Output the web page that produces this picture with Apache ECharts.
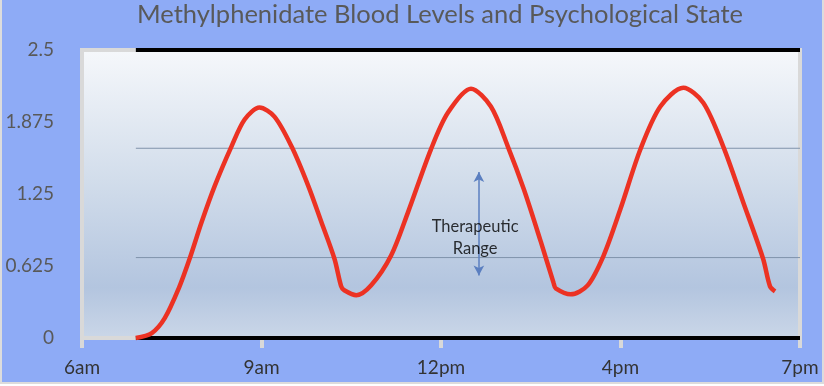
<!DOCTYPE html>
<html>
<head>
<meta charset="utf-8">
<script src="https://cdn.jsdelivr.net/npm/echarts@6/dist/echarts.min.js"></script>
<style>
html,body{margin:0;padding:0;background:#ffffff;}
#c{width:820px;height:382px;border:2px solid #dcdcdc;border-top:0;border-left:2px solid #dcdcdc;}
</style>
</head>
<body>
<div id="c"></div>
<script>
// Tick labels
const xLabels = ['6am', '9am', '12pm', '4pm', '7pm'];
const yTicks = [0, 0.625, 1.25, 1.875, 2.5];
// Blood level curve (x in tick units from 6am, y level)
const curveX = [0.300,0.389,0.461,0.539,0.600,0.667,0.739,0.833,0.906,0.989,1.072,1.167,1.261,1.333,1.406,1.444,1.461,1.528,1.611,1.722,1.817,1.944,2.039,2.167,2.278,2.372,2.461,2.556,2.628,2.639,2.722,2.817,2.906,3.000,3.111,3.222,3.350,3.461,3.572,3.683,3.794,3.833,3.861];
const curveY = [0,0.043,0.172,0.431,0.690,1.009,1.319,1.664,1.897,2.000,1.922,1.664,1.319,1.009,0.690,0.448,0.414,0.371,0.457,0.716,1.095,1.638,1.957,2.164,2.009,1.664,1.293,0.836,0.474,0.431,0.379,0.457,0.716,1.121,1.638,2.009,2.172,2.043,1.664,1.181,0.690,0.448,0.405];
// Therapeutic range bounds and annotation
const rangeLow = 0.698;
const rangeHigh = 1.647;
const rangeStart = 0.3;
const rangeEnd = 4;
const arrowX = 2.211;
const arrowFrom = 0.543;
const arrowTo = 1.44;
const labelPos = [2.19, 0.87];
const labelText = 'Therapeutic\nRange';

const chart = echarts.init(document.getElementById('c'));
const font = 'Lato, "Open Sans", sans-serif';
chart.setOption({
  backgroundColor: '#8eabf6',
  animation: false,
  title: {
    text: 'Methylphenidate Blood Levels and Psychological State',
    left: 130, top: -3,
    textStyle: {fontFamily: font, fontSize: 25.5, fontWeight: 'normal', color: '#595959'}
  },
  grid: {
    left: 80, right: 22, top: 50, bottom: 44,
    show: true,
    borderColor: '#d9d9d9', borderWidth: 4,
    backgroundColor: {
      type: 'linear', x: 0, y: 0, x2: 0, y2: 1,
      colorStops: [
        {offset: 0, color: '#f6f8fb'},
        {offset: 0.45, color: '#d2ddeb'},
        {offset: 0.82, color: '#b3c5df'},
        {offset: 1, color: '#cbd7e8'}
      ]
    }
  },
  xAxis: {
    type: 'value', min: 0, max: 4, interval: 1,
    axisLine: {show: false},
    axisTick: {show: true, length: 10, lineStyle: {color: '#d9d9d9', width: 4}},
    splitLine: {show: false},
    axisLabel: {
      margin: 20,
      fontFamily: font, fontSize: 19, color: '#333333',
      formatter: v => xLabels[Math.round(v)]
    }
  },
  yAxis: {
    type: 'value', min: 0, max: 2.5, interval: 0.625,
    axisLine: {show: false},
    axisTick: {show: false},
    splitLine: {show: false},
    axisLabel: {
      margin: 28,
      fontFamily: font, fontSize: 19, color: '#595959',
      formatter: v => String(yTicks.find(t => Math.abs(t - v) < 1e-6) ?? v)
    }
  },
  series: [
    {
      type: 'line', silent: true, symbol: 'none', clip: false,
      data: [[rangeStart, 0], [rangeEnd, 0]],
      lineStyle: {color: '#000000', width: 4}
    },
    {
      type: 'line', silent: true, symbol: 'none', clip: false,
      data: [[rangeStart, 2.5], [rangeEnd, 2.5]],
      lineStyle: {color: '#000000', width: 4}
    },
    {
      type: 'line', silent: true, symbol: 'none',
      data: [[rangeStart, rangeLow], [rangeEnd, rangeLow]],
      lineStyle: {color: '#8093ab', width: 1}
    },
    {
      type: 'line', silent: true, symbol: 'none',
      data: [[rangeStart, rangeHigh], [rangeEnd, rangeHigh]],
      lineStyle: {color: '#8093ab', width: 1}
    },
    {
      type: 'line', silent: true, symbol: 'none', smooth: 0.3, clip: false,
      data: curveX.map((x, i) => [x, curveY[i]]),
      lineStyle: {color: '#ec3223', width: 4.5}
    },
    {
      type: 'scatter', silent: true, symbolSize: 0,
      data: [labelPos],
      label: {
        show: true, position: 'inside', formatter: labelText,
        fontFamily: font, fontSize: 16.5, color: '#000000', lineHeight: 22
      },
      markLine: {
        silent: true,
        symbol: ['arrow', 'arrow'], symbolSize: [8, 10],
        label: {show: false},
        lineStyle: {color: '#5b7fc0', width: 1.5, type: 'solid', opacity: 1},
        data: [[{coord: [arrowX, arrowFrom]}, {coord: [arrowX, arrowTo]}]]
      },
      z: 5
    }
  ]
});
</script>
</body>
</html>
